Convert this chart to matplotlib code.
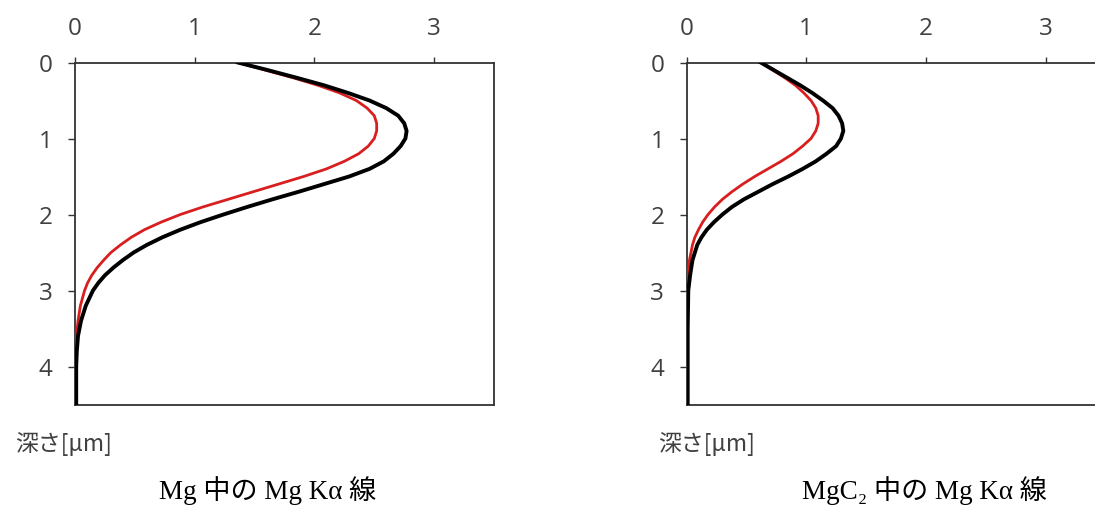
"""Mg Ka depth distribution in Mg and MgC2"""
import matplotlib
matplotlib.use('Agg')
import matplotlib.pyplot as plt

plt.rcParams.update({'font.family': ['Open Sans', 'DejaVu Sans'], 'font.size': 14})

# depth [um] and intensity for each curve
mg_depth_black = [0.0, 0.1, 0.2, 0.3, 0.4, 0.5, 0.6, 0.7, 0.8, 0.9, 1.0, 1.1, 1.2, 1.3, 1.4, 1.5,
                  1.6, 1.7, 1.8, 1.9, 2.0, 2.1, 2.2, 2.3, 2.4, 2.5, 2.6, 2.7, 2.8, 2.9, 3.0,
                  3.2, 3.4, 3.6, 3.8, 4.0, 4.5]
mg_black = [1.36, 1.61, 1.85, 2.08, 2.28, 2.46, 2.60, 2.70, 2.75, 2.77, 2.76, 2.72, 2.66, 2.58,
            2.46, 2.29, 2.08, 1.87, 1.65, 1.44, 1.24, 1.05, 0.88, 0.73, 0.60, 0.49, 0.40, 0.32,
            0.25, 0.195, 0.15, 0.09, 0.05, 0.025, 0.015, 0.01, 0.01]
mg_depth_red = [0.0, 0.1, 0.2, 0.3, 0.4, 0.5, 0.6, 0.7, 0.8, 0.9, 1.0, 1.1, 1.2, 1.3, 1.4, 1.5,
                1.6, 1.7, 1.8, 1.9, 2.0, 2.1, 2.2, 2.3, 2.4, 2.5, 2.6, 2.7, 2.8, 2.9, 3.0,
                3.2, 3.4, 3.6, 3.8]
mg_red = [1.36, 1.59, 1.82, 2.03, 2.21, 2.35, 2.44, 2.50, 2.52, 2.52, 2.50, 2.45, 2.37, 2.25,
          2.10, 1.91, 1.70, 1.49, 1.28, 1.07, 0.88, 0.72, 0.58, 0.47, 0.38, 0.30, 0.24, 0.185,
          0.14, 0.105, 0.08, 0.045, 0.025, 0.012, 0.008]

mgc2_depth_black = [0.0, 0.1, 0.2, 0.3, 0.4, 0.5, 0.6, 0.7, 0.8, 0.9, 1.0, 1.1, 1.2, 1.3, 1.4,
                    1.5, 1.6, 1.7, 1.8, 1.9, 2.0, 2.1, 2.2, 2.3, 2.4, 2.6, 2.8, 3.0, 3.5, 4.5]
mgc2_black = [0.62, 0.73, 0.84, 0.95, 1.05, 1.14, 1.22, 1.27, 1.30, 1.31, 1.29, 1.25, 1.17,
              1.08, 0.97, 0.85, 0.72, 0.60, 0.48, 0.38, 0.30, 0.23, 0.17, 0.125, 0.09, 0.05,
              0.03, 0.015, 0.01, 0.01]
mgc2_depth_red = [0.0, 0.1, 0.2, 0.3, 0.4, 0.5, 0.6, 0.7, 0.8, 0.9, 1.0, 1.1, 1.2, 1.3, 1.4,
                  1.5, 1.6, 1.7, 1.8, 1.9, 2.0, 2.1, 2.2, 2.3, 2.4, 2.6, 2.8, 3.0, 3.6]
mgc2_red = [0.62, 0.72, 0.82, 0.91, 0.98, 1.04, 1.08, 1.10, 1.10, 1.08, 1.04, 0.97, 0.89, 0.79,
            0.68, 0.57, 0.47, 0.38, 0.30, 0.235, 0.18, 0.135, 0.10, 0.07, 0.05, 0.025, 0.012,
            0.006, 0.004]

xticks = [0, 1, 2, 3]
yticks = [0, 1, 2, 3, 4]
titles = ['Mg 中の Mg Kα 線', 'MgC₂ 中の Mg Kα 線']
ylabel = '深さ[μm]'

W, H = 1095, 506
fig = plt.figure(figsize=(W / 100, H / 100), dpi=100, facecolor='white')

panels = [
    (75, (mg_depth_black, mg_black), (mg_depth_red, mg_red), 15, 268),
    (686.5, (mgc2_depth_black, mgc2_black), (mgc2_depth_red, mgc2_red), 658, 924),
]
for i, (x0, blk, red, lab_x, tit_x) in enumerate(panels):
    ax = fig.add_axes([x0 / W, (H - 405.5) / H, 419 / W, 342 / H])
    ax.plot(red[1], red[0], color='#d81e1e', lw=2.0, zorder=3, solid_joinstyle='round')
    ax.plot(blk[1], blk[0], color='black', lw=2.8, zorder=4, solid_joinstyle='round')
    ax.set_xlim(0, 3.5)
    ax.set_ylim(4.5, 0)
    ax.set_xticks(xticks)
    ax.set_yticks(yticks)
    ax.xaxis.tick_top()
    ax.tick_params(axis='x', direction='out', length=4, width=1.0, color='#333333',
                   labelcolor='#404040', labelsize=17.5, pad=12)
    ax.tick_params(axis='y', direction='out', length=5, width=1.0, color='#333333',
                   labelcolor='#404040', labelsize=17.5, pad=11)
    for s in ax.spines.values():
        s.set_color('#333333')
        s.set_linewidth(1.3)
    fig.text(lab_x / W, 1 - 444 / H, ylabel, family=['Noto Sans CJK JP', 'DejaVu Sans'],
             fontsize=16.5, color='#404040', ha='left', va='center')
    fig.text(tit_x / W, 1 - 491 / H, titles[i],
             family=['Liberation Serif', 'DejaVu Serif', 'Noto Sans CJK JP'],
             fontsize=19.5, color='black', ha='center', va='center')

fig.savefig('out.png', dpi=100, facecolor='white')
